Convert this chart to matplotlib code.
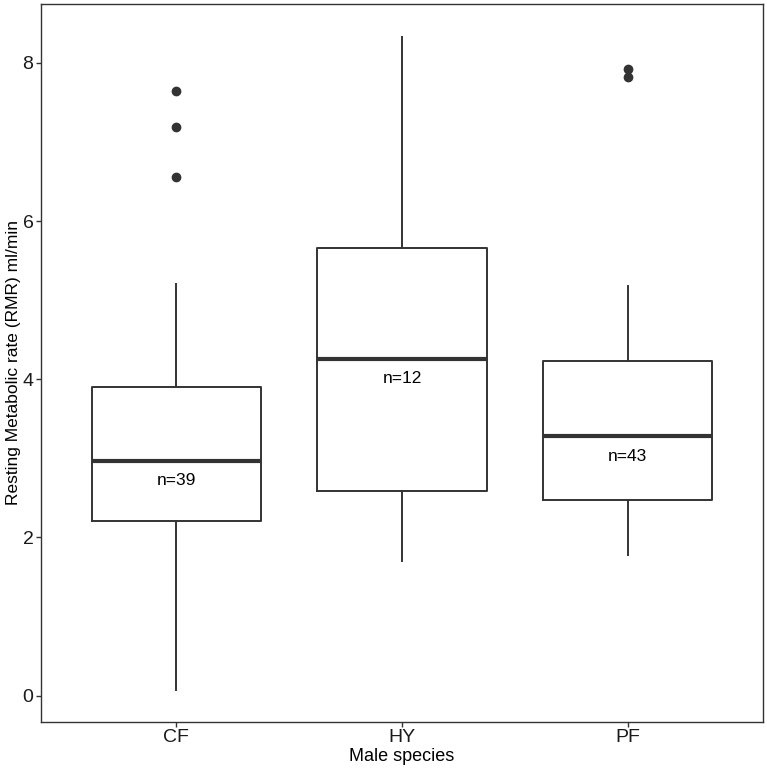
import matplotlib
matplotlib.use("Agg")
import matplotlib.pyplot as plt

plt.rcParams['font.family'] = ['Liberation Sans', 'DejaVu Sans']

SPECIES = ["CF", "HY", "PF"]
N_LABELS = ["n=39", "n=12", "n=43"]

WHISK_LO = [0.07, 1.70, 1.78]
Q1 = [2.21, 2.59, 2.47]
MEDIAN = [2.97, 4.26, 3.28]
Q3 = [3.90, 5.66, 4.23]
WHISK_HI = [5.20, 8.33, 5.18]
OUTLIERS = [[7.65, 7.19, 6.56], [], [7.92, 7.82]]

GREY = "#333333"

fig = plt.figure(figsize=(7.67, 7.70), dpi=100)
ax = fig.add_axes([0.0535, 0.0627, 0.9413, 0.9321])

stats = []
for i in range(len(SPECIES)):
    stats.append({
        "whislo": WHISK_LO[i], "q1": Q1[i], "med": MEDIAN[i],
        "q3": Q3[i], "whishi": WHISK_HI[i], "fliers": OUTLIERS[i],
        "label": SPECIES[i],
    })

ax.bxp(stats, positions=[1, 2, 3], widths=0.75, showcaps=False,
       boxprops=dict(color=GREY, linewidth=1.4),
       whiskerprops=dict(color=GREY, linewidth=1.4),
       medianprops=dict(color=GREY, linewidth=3.0),
       flierprops=dict(marker='o', markerfacecolor=GREY, markeredgecolor=GREY,
                       markersize=6))

for i in range(len(SPECIES)):
    ax.annotate(N_LABELS[i], xy=(i + 1, MEDIAN[i]), xytext=(0, -14.5),
                textcoords='offset points', ha='center', va='center',
                fontsize=12.5, color='black')

ax.set_xlim(0.4, 3.6)
ax.set_ylim(-0.33, 8.745)
ax.set_yticks([0, 2, 4, 6, 8])
ax.set_xticks([1, 2, 3])
ax.set_xticklabels(SPECIES)

ax.tick_params(axis='both', length=3.5, width=1.0, color=GREY,
               labelsize=14, labelcolor='#1a1a1a', pad=2)
for s in ax.spines.values():
    s.set_color(GREY)
    s.set_linewidth(1.0)

ax.set_xlabel("Male species", fontsize=13, labelpad=1)
ax.set_ylabel("Resting Metabolic rate (RMR) ml/min", fontsize=12.5)
ax.yaxis.set_label_coords(-0.028, 0.5)

fig.savefig("out.png", dpi=100)
